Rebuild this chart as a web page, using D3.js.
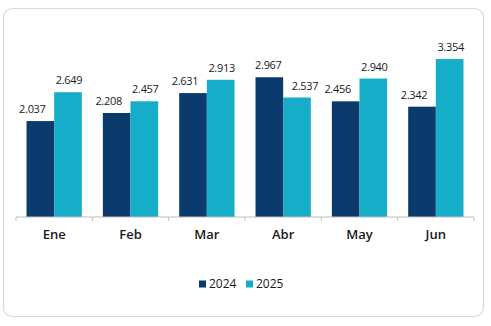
<!DOCTYPE html>
<html><head><meta charset="utf-8">
<script src="https://cdn.jsdelivr.net/npm/d3@7/dist/d3.min.js"></script>
<style>html,body{margin:0;padding:0;background:#fff;}svg{display:block;}</style>
</head><body><svg id="c" width="491" height="326"></svg>
<script>
const categories = ["Ene","Feb","Mar","Abr","May","Jun"];
const seriesNames = ["2024","2025"];
const values2024 = [2.037,2.208,2.631,2.967,2.456,2.342];
const values2025 = [2.649,2.457,2.913,2.537,2.940,3.354];
const valueLabels2024 = ["2.037","2.208","2.631","2.967","2.456","2.342"];
const valueLabels2025 = ["2.649","2.457","2.913","2.537","2.940","3.354"];
const colors = ["#0b3b6c","#15adc7"];

const svg = d3.select("#c");
const font = "'Open Sans', sans-serif";

svg.append("rect").attr("x",3.5).attr("y",8.5).attr("width",480).attr("height",308)
  .attr("rx",9).attr("fill","#fff").attr("stroke","#d9d9d9").attr("stroke-width",1.2);

const left = 16, right = 474, baseY = 217;
const x = d3.scaleBand().domain(categories).range([left,right]).paddingInner(0).paddingOuter(0);
const inner = d3.scaleBand().domain(seriesNames).range([0,x.bandwidth()]).paddingInner(0).paddingOuter(0.38);
const y = d3.scaleLinear().domain([0,4]).range([baseY, baseY - 4*47.1]);

const series = [values2024, values2025];
const labels = [valueLabels2024, valueLabels2025];

const rows = [];
categories.forEach((c,i)=>{
  seriesNames.forEach((s,j)=>{
    rows.push({c, s, j, v: series[j][i], other: series[1-j][i], label: labels[j][i]});
  });
});

svg.append("g").selectAll("rect").data(rows).join("rect")
  .attr("x", d => x(d.c) + inner(d.s))
  .attr("y", d => y(d.v))
  .attr("width", inner.bandwidth())
  .attr("height", d => baseY - y(d.v))
  .attr("fill", d => colors[d.j]);

// axis
const axisG = svg.append("g").attr("transform",`translate(0,${baseY})`);
axisG.append("line").attr("x1",left).attr("x2",right).attr("stroke","#bfbfbf").attr("stroke-width",1);
const tickXs = categories.map(c => x(c)).concat([right]);
axisG.selectAll("line.t").data(tickXs).join("line").attr("class","t")
  .attr("x1",d=>d).attr("x2",d=>d).attr("y1",0).attr("y2",4)
  .attr("stroke","#bfbfbf").attr("stroke-width",1);

svg.append("g").selectAll("text").data(categories).join("text")
  .attr("x", c => x(c) + x.bandwidth()/2)
  .attr("y", 239)
  .attr("text-anchor","middle")
  .attr("font-family",font).attr("font-size",13).attr("font-weight",600)
  .attr("fill","#1a1a1a")
  .text(c=>c);

// value labels
svg.append("g").selectAll("text").data(rows).join("text")
  .attr("x", d => {
    const cx = x(d.c) + inner(d.s) + inner.bandwidth()/2;
    const shift = d.other > d.v ? 8 : 1;
    return cx + (d.j === 0 ? -shift : shift);
  })
  .attr("y", d => y(d.v) - 8)
  .attr("text-anchor","middle")
  .attr("font-family",font).attr("font-size",11).attr("letter-spacing",-0.3)
  .attr("fill","#1a1a1a")
  .text(d=>d.label);

// legend
const legend = svg.append("g");
const legendX = [199, 246];
seriesNames.forEach((s,j)=>{
  legend.append("rect").attr("x",legendX[j]).attr("y",280.5).attr("width",7).attr("height",7).attr("fill",colors[j]);
  legend.append("text").attr("x",legendX[j]+10).attr("y",288)
    .attr("font-family",font).attr("font-size",12).attr("fill","#1a1a1a").text(s);
});
</script></body></html>
